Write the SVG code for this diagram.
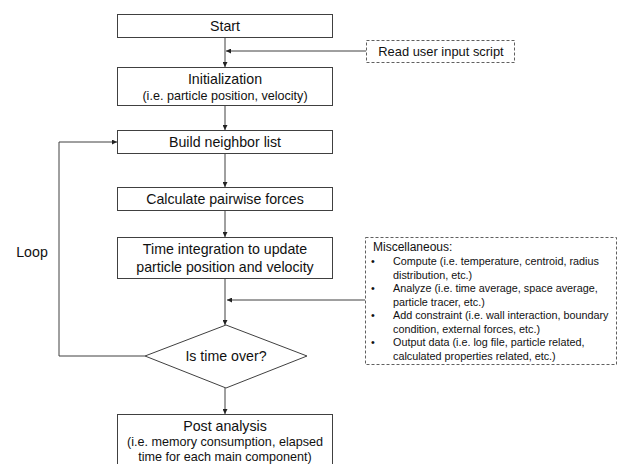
<svg xmlns="http://www.w3.org/2000/svg" width="619" height="464" viewBox="0 0 619 464">
<defs>
<marker id="ah" viewBox="0 0 10 10" refX="10" refY="5" markerWidth="5" markerHeight="5" orient="auto" markerUnits="userSpaceOnUse">
<path d="M0,0 L10,5 L0,10 z" fill="#222"/>
</marker>
<style>
.box{fill:#fff;stroke:#404040;stroke-width:1}
.dash{fill:#fff;stroke:#606060;stroke-width:1;stroke-dasharray:3,2}
.t{font-family:"Liberation Sans",Arial,sans-serif;font-size:14.2px;fill:#111;text-anchor:middle}
.s{font-family:"Liberation Sans",Arial,sans-serif;font-size:10.8px;fill:#111}
.c{fill:none;stroke:#404040;stroke-width:1;marker-end:url(#ah)}
</style>
</defs>
<rect width="619" height="464" fill="#fff"/>
<g id="connectors">
<path class="c" d="M225,37 V67"/>
<path class="c" d="M366,51 H226"/>
<path class="c" d="M225,105 V130"/>
<path class="c" d="M225,153 V187"/>
<path class="c" d="M225,210 V237"/>
<path class="c" d="M225,278 V325"/>
<path class="c" d="M365,300 H227"/>
<path class="c" d="M225,388 V414"/>
<path class="c" d="M145,356 H59 V142 H117"/>
</g>
<g id="start"><rect class="box" x="117.5" y="14.5" width="215" height="23"/><text class="t" x="225" y="31">Start</text></g>
<g id="read-input"><rect class="dash" x="366.5" y="40.5" width="148" height="22"/><text class="t" x="441" y="56" style="font-size:12.9px">Read user input script</text></g>
<g id="init"><rect class="box" x="117.5" y="67.5" width="215" height="38"/><text class="t" x="225" y="84">Initialization</text><text class="t" x="225" y="100" style="font-size:12.6px">(i.e. particle position, velocity)</text></g>
<g id="neighbor"><rect class="box" x="117.5" y="130.5" width="215" height="23"/><text class="t" x="225" y="147">Build neighbor list</text></g>
<g id="forces"><rect class="box" x="117.5" y="187.5" width="215" height="23"/><text class="t" x="225" y="204">Calculate pairwise forces</text></g>
<g id="integration"><rect class="box" x="117.5" y="237.5" width="215" height="41"/><text class="t" x="225" y="254">Time integration to update</text><text class="t" x="225" y="272">particle position and velocity</text></g>
<g id="misc"><rect class="dash" x="365.5" y="237.5" width="251" height="127"/>
<text class="s" x="373" y="251" style="font-size:12px">Miscellaneous:</text>
<text class="s" x="371" y="265">•</text><text class="s" x="393" y="265">Compute (i.e. temperature, centroid, radius</text>
<text class="s" x="393" y="278.5">distribution, etc.)</text>
<text class="s" x="371" y="292">•</text><text class="s" x="393" y="292">Analyze (i.e. time average, space average,</text>
<text class="s" x="393" y="305.5">particle tracer, etc.)</text>
<text class="s" x="371" y="319">•</text><text class="s" x="393" y="319">Add constraint (i.e. wall interaction, boundary</text>
<text class="s" x="393" y="332.5">condition, external forces, etc.)</text>
<text class="s" x="371" y="346">•</text><text class="s" x="393" y="346">Output data (i.e. log file, particle related,</text>
<text class="s" x="393" y="359.5">calculated properties related, etc.)</text>
</g>
<g id="decision"><polygon class="box" points="226,325 307,356 226,388 145,356"/><text class="t" x="226" y="361">Is time over?</text></g>
<g id="loop-label"><text class="t" x="32" y="257">Loop</text></g>
<g id="post"><rect class="box" x="117.5" y="414.5" width="215" height="60"/><text class="t" x="225" y="431">Post analysis</text><text class="t" x="225" y="446" style="font-size:12.6px">(i.e. memory consumption, elapsed</text><text class="t" x="225" y="461" style="font-size:12.6px">time for each main component)</text></g>
</svg>
